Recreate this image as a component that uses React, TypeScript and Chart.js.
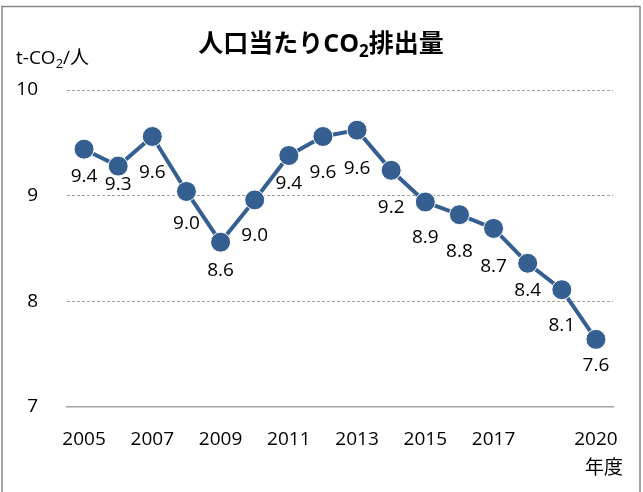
import React, { useEffect, useRef } from 'react';
import { Chart, registerables } from 'chart.js';

Chart.register(...registerables);

const years = ['2005', '2006', '2007', '2008', '2009', '2010', '2011', '2012', '2013', '2014', '2015', '2016', '2017', '2018', '2019', '2020'];
const emissions = [9.44, 9.28, 9.56, 9.04, 8.56, 8.96, 9.38, 9.56, 9.62, 9.24, 8.94, 8.82, 8.69, 8.36, 8.11, 7.64];
const shownYearLabels = ['2005', '2007', '2009', '2011', '2013', '2015', '2017', '2020'];
const yMin = 7;
const yMax = 10;
const titleBefore = '人口当たり';
const titleCO = 'CO';
const titleAfter = '排出量';
const unitBefore = 't-CO';
const unitAfter = '/人';
const xUnit = '年度';

const FONT = "'Open Sans', 'Noto Sans CJK JP', sans-serif";
const BLUE = '#365f91';

type Run = { text: string; size: number; dy: number };

function drawRuns(ctx: CanvasRenderingContext2D, runs: Run[], x: number, y: number, weight: string, align: 'left' | 'center' | 'right') {
  let total = 0;
  const widths = runs.map((r) => {
    ctx.font = `${weight} ${r.size}px ${FONT}`;
    const w = ctx.measureText(r.text).width;
    total += w;
    return w;
  });
  let cx = align === 'left' ? x : align === 'center' ? x - total / 2 : x - total;
  ctx.textAlign = 'left';
  ctx.textBaseline = 'alphabetic';
  runs.forEach((r, i) => {
    ctx.font = `${weight} ${r.size}px ${FONT}`;
    ctx.fillText(r.text, cx, y + r.dy);
    cx += widths[i];
  });
}

const decorPlugin = {
  id: 'decor',
  beforeDraw(chart: any) {
    const ctx = chart.ctx as CanvasRenderingContext2D;
    ctx.save();
    ctx.fillStyle = '#ffffff';
    ctx.fillRect(0, 0, chart.width, chart.height);
    ctx.strokeStyle = '#858585';
    ctx.lineWidth = 1.5;
    ctx.strokeRect(2, 6.5, 638, 500);
    ctx.restore();
  },
  afterDatasetsDraw(chart: any) {
    const ctx = chart.ctx as CanvasRenderingContext2D;
    const meta = chart.getDatasetMeta(0);
    const offsets = [27, 19, 36, 32, 28, 36, 28, 36, 38, 37, 36, 37, 38, 27, 36, 26];
    ctx.save();
    ctx.fillStyle = '#000';
    ctx.font = `19px ${FONT}`;
    ctx.textAlign = 'center';
    ctx.textBaseline = 'middle';
    meta.data.forEach((pt: any, i: number) => {
      ctx.fillText(emissions[i].toFixed(1), pt.x, pt.y + offsets[i]);
    });
    ctx.restore();
  },
  afterDraw(chart: any) {
    const ctx = chart.ctx as CanvasRenderingContext2D;
    ctx.save();
    ctx.fillStyle = '#000';
    drawRuns(
      ctx,
      [
        { text: titleBefore, size: 25, dy: 0 },
        { text: titleCO, size: 25, dy: 0 },
        { text: '2', size: 17, dy: 5 },
        { text: titleAfter, size: 25, dy: 0 },
      ],
      321,
      52,
      'bold',
      'center'
    );
    drawRuns(
      ctx,
      [
        { text: unitBefore, size: 19, dy: 0 },
        { text: '2', size: 13, dy: 4 },
        { text: unitAfter, size: 19, dy: 0 },
      ],
      16,
      64,
      'normal',
      'left'
    );
    drawRuns(ctx, [{ text: xUnit, size: 19, dy: 0 }], 623, 474, 'normal', 'right');
    ctx.restore();
  },
};

export default function App() {
  const ref = useRef<HTMLCanvasElement | null>(null);
  useEffect(() => {
    if (!ref.current) return;
    const chart = new Chart(ref.current, {
      type: 'line',
      data: {
        labels: years,
        datasets: [
          {
            data: emissions,
            borderColor: BLUE,
            borderWidth: 4,
            pointRadius: 10,
            pointBackgroundColor: BLUE,
            pointBorderColor: '#ffffff',
            pointBorderWidth: 1,
            tension: 0,
          },
        ],
      },
      options: {
        responsive: false,
        animation: false,
        layout: { padding: { top: 90, right: 30, bottom: 0, left: 0 } },
        plugins: {
          legend: { display: false },
          title: { display: false },
          tooltip: { enabled: false },
        },
        scales: {
          x: {
            offset: true,
            grid: { display: false, drawTicks: false },
            border: { display: true, color: '#a6a6a6', width: 1.5 },
            ticks: {
              autoSkip: false,
              maxRotation: 0,
              padding: 21,
              color: '#000',
              font: { family: FONT, size: 19 },
              callback: (_v: any, i: number) => (shownYearLabels.includes(years[i]) ? years[i] : ''),
            },
            afterFit: (s: any) => {
              s.height = 85;
            },
          },
          y: {
            min: yMin,
            max: yMax,
            ticks: {
              stepSize: 1,
              padding: 29,
              color: '#000',
              font: { family: FONT, size: 19 },
            },
            grid: {
              drawTicks: false,
              color: (c: any) => (c.tick && c.tick.value === yMin ? 'rgba(0,0,0,0)' : '#a0a0a0'),
              lineWidth: 1,
            },
            border: { display: false, dash: [3, 2] },
            afterFit: (s: any) => {
              s.width = 67;
            },
          },
        },
      },
      plugins: [decorPlugin],
    });
    return () => chart.destroy();
  }, []);
  return (
    <div style={{ position: 'fixed', left: 0, top: 0, width: 643, height: 492 }}>
      <canvas ref={ref} width={643} height={492} style={{ display: 'block' }} />
    </div>
  );
}
